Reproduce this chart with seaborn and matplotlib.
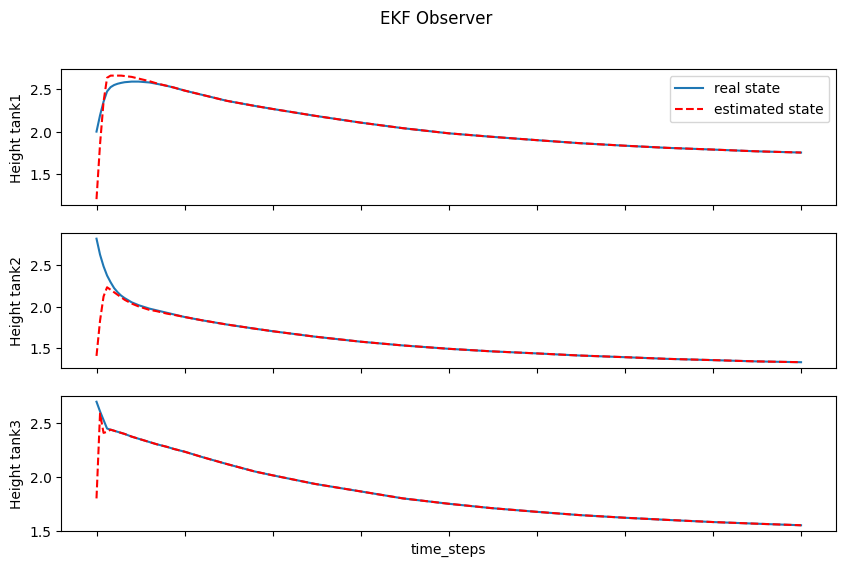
#%% import libraries
import matplotlib
matplotlib.use('Agg')
import seaborn as sns
import matplotlib.pyplot as plt

#%% data
time_steps = [0, 1, 2, 3, 4, 5, 6, 7, 8, 10, 12, 15, 17, 20, 22, 25, 30, 37, 45, 50,
              62, 75, 87, 100, 112, 125, 137, 150, 162, 175, 187, 200]

tank1_real = [2.00, 2.19, 2.35, 2.47, 2.52, 2.545, 2.56, 2.57, 2.578, 2.585, 2.585, 2.575,
              2.56, 2.535, 2.515, 2.48, 2.43, 2.36, 2.30, 2.265,
              2.185, 2.105, 2.04, 1.98, 1.94, 1.90, 1.865, 1.835, 1.81, 1.79, 1.77, 1.755]
tank1_est = [1.21, 1.85, 2.35, 2.63, 2.655, 2.655, 2.655, 2.655, 2.65, 2.64, 2.62, 2.59,
             2.565, 2.535, 2.515, 2.48, 2.43, 2.36, 2.30, 2.265,
             2.185, 2.105, 2.04, 1.98, 1.94, 1.90, 1.865, 1.835, 1.81, 1.79, 1.77, 1.755]

tank2_real = [2.81, 2.62, 2.48, 2.37, 2.29, 2.22, 2.17, 2.13, 2.10, 2.05, 2.015, 1.975,
              1.955, 1.925, 1.905, 1.875, 1.835, 1.785, 1.735, 1.705,
              1.64, 1.58, 1.535, 1.495, 1.465, 1.44, 1.415, 1.395, 1.375, 1.36, 1.345, 1.335]
tank2_est = [1.41, 1.83, 2.12, 2.23, 2.20, 2.17, 2.14, 2.11, 2.08, 2.035, 2.0, 1.96,
             1.945, 1.915, 1.90, 1.875, 1.835, 1.785, 1.735, 1.705,
             1.64, 1.58, 1.535, 1.495, 1.465, 1.44, 1.415, 1.395, 1.375, 1.36, 1.345, 1.335]

tank3_real = [2.70, 2.61, 2.53, 2.45, 2.44, 2.43, 2.42, 2.41, 2.40, 2.375, 2.355, 2.325,
              2.305, 2.28, 2.26, 2.235, 2.185, 2.12, 2.05, 2.015,
              1.935, 1.865, 1.80, 1.75, 1.71, 1.675, 1.645, 1.62, 1.60, 1.58, 1.565, 1.55]
tank3_est = [1.80, 2.59, 2.41, 2.42, 2.44, 2.43, 2.42, 2.41, 2.40, 2.375, 2.355, 2.325,
             2.305, 2.28, 2.26, 2.235, 2.185, 2.12, 2.05, 2.015,
             1.935, 1.865, 1.80, 1.75, 1.71, 1.675, 1.645, 1.62, 1.60, 1.58, 1.565, 1.55]

tanks = ['Height tank1', 'Height tank2', 'Height tank3']
real = [tank1_real, tank2_real, tank3_real]
est = [tank1_est, tank2_est, tank3_est]

#%% plot
fig, axes = plt.subplots(3, 1, figsize=(10, 6), sharex=True)
fig.suptitle('EKF Observer')

for i, ax in enumerate(axes):
    sns.lineplot(x=time_steps, y=real[i], ax=ax, color='#1f77b4', label='real state')
    sns.lineplot(x=time_steps, y=est[i], ax=ax, color='red', linestyle='--',
                 label='estimated state')
    ax.set_ylabel(tanks[i])
    ax.set_xticks([0, 25, 50, 75, 100, 125, 150, 175, 200])
    ax.tick_params(labelbottom=False)
    if i == 0:
        ax.legend(loc='upper right')
    else:
        ax.get_legend().remove()

axes[-1].set_xlabel('time_steps')
plt.savefig('out.png', dpi=100, bbox_inches='tight')
